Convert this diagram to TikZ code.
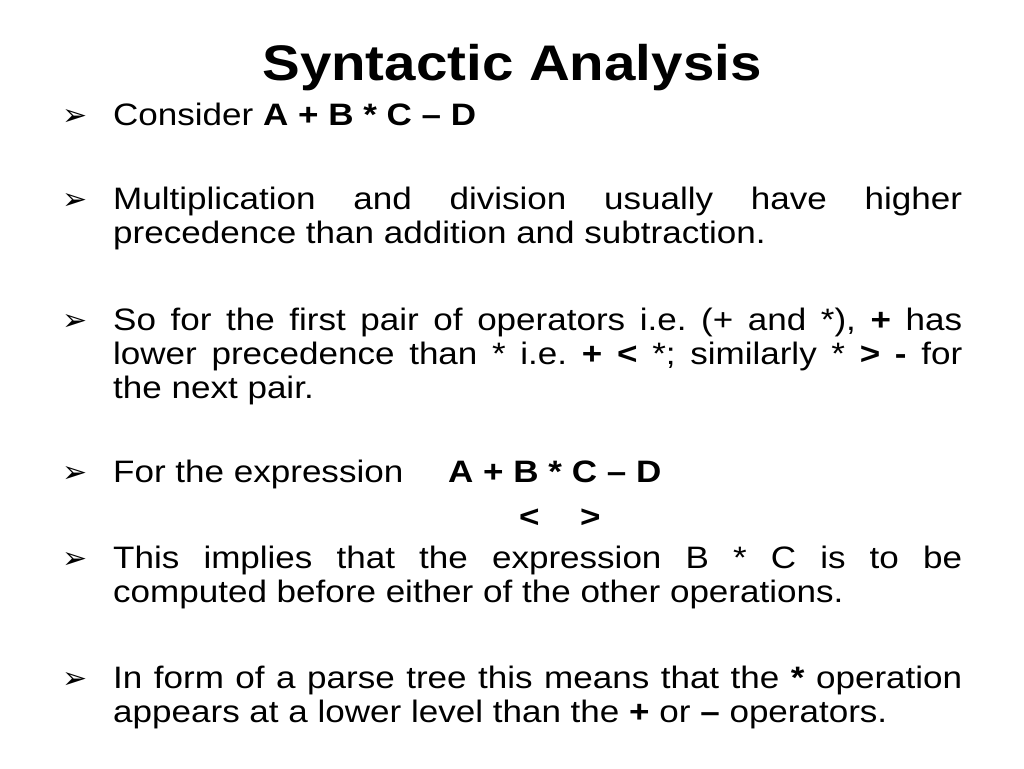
\documentclass[tikz,border=0pt]{standalone}
\usepackage{fontspec}
\setmainfont[FakeStretch=1.13]{Liberation Sans}
\newfontfamily\dejavu{DejaVu Sans}
\frenchspacing
\begin{document}
\begin{tikzpicture}[x=1pt,y=-1pt,
  para/.style={anchor=base west,inner sep=0pt,text width=849pt,align=justify,font=\fontsize{31}{34}\selectfont},
  txt/.style={anchor=base west,inner sep=0pt,font=\fontsize{31}{34}\selectfont},
  bul/.style={anchor=base west,inner sep=0pt,font=\dejavu\fontsize{30}{30}\selectfont}]
\useasboundingbox (0,0) rectangle (1024,768);
\node[anchor=base,inner sep=0pt,font=\bfseries\fontsize{50}{56}\selectfont] (title) at (512,80) {Syntactic Analysis};
\foreach \y/\n in {125/b1,209/b2,330/b3,482/b4,568/b5,688/b6}
  \node[bul] (\n) at (62,\y) {➢};
\node[txt] (p1) at (113,125) {Consider \textbf{A + B * C – D}};
\node[para] (p2) at (113,209) {Multiplication and division usually have higher\linebreak precedence than addition and subtraction.};
\node[para] (p3) at (113,330) {So for the first pair of operators i.e. (+ and *), \textbf{+} has\linebreak lower precedence than * i.e. \textbf{+ <} *; similarly * \textbf{> -} for\linebreak the next pair.};
\node[txt] (p4) at (113,482) {For the expression};
\node[txt] (e4) at (448,482) {\textbf{A + B * C – D}};
\node[txt] (lt) at (519,527) {\textbf{<}};
\node[txt] (gt) at (580,527) {\textbf{>}};
\node[para] (p5) at (113,568) {This implies that the expression B * C is to be\linebreak computed before either of the other operations.};
\node[para] (p6) at (113,688) {In form of a parse tree this means that the \textbf{*} operation\linebreak appears at a lower level than the \textbf{+} or \textbf{–} operators.};
\end{tikzpicture}
\end{document}
